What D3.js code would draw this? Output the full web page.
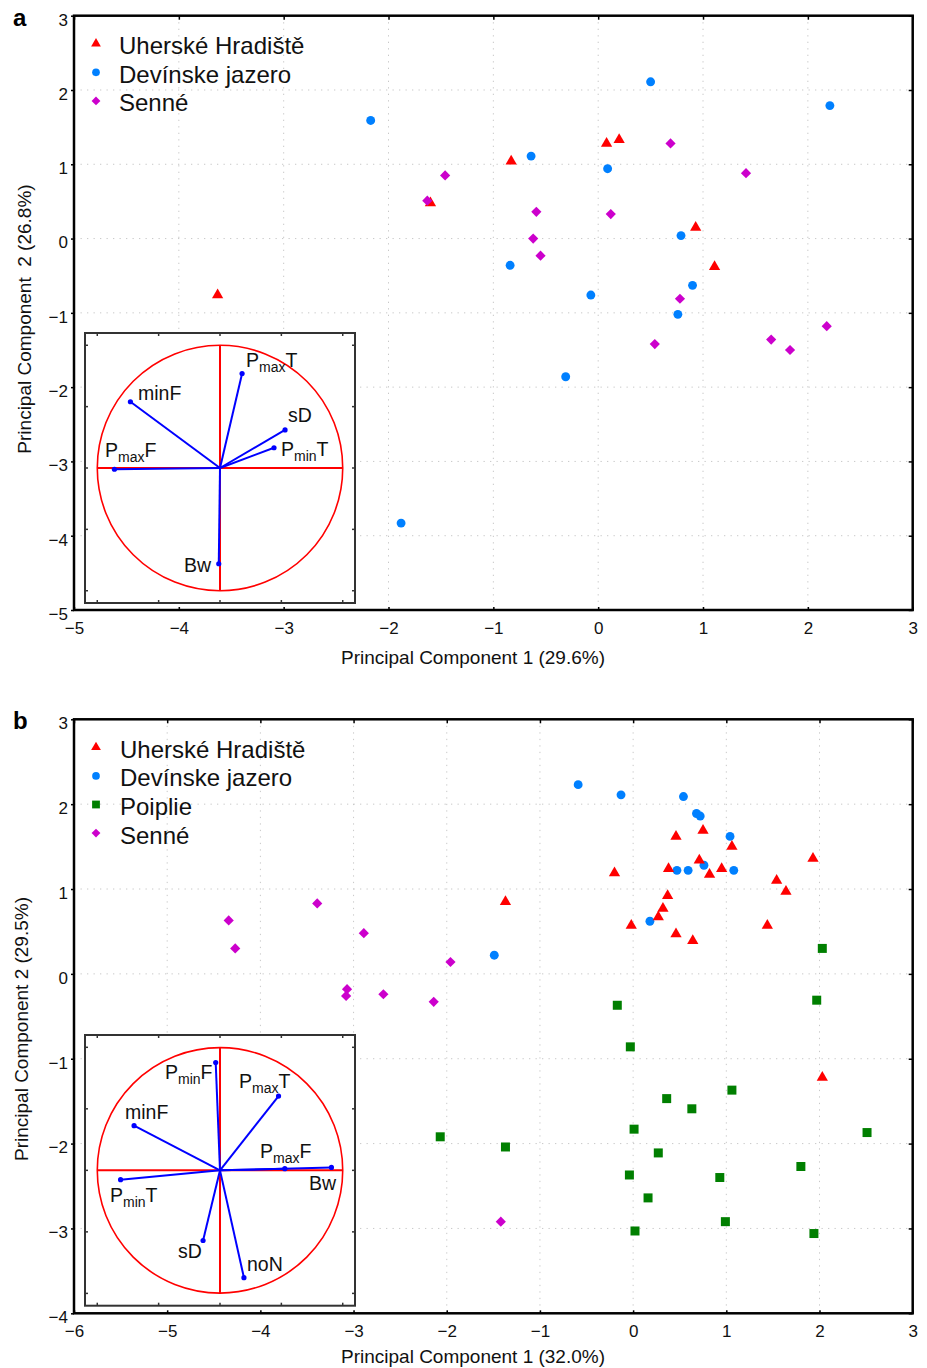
<!DOCTYPE html>
<html><head><meta charset="utf-8">
<script src="https://cdn.jsdelivr.net/npm/d3@7"></script>
<style>html,body{margin:0;padding:0;background:#fff;}svg{display:block;font-family:"Liberation Sans",Arial,sans-serif;}</style>
</head><body>
<svg id="c" width="927" height="1368"></svg>
<script>
// ---------- DATA ----------
const groupsA = ["Uherské Hradiště","Devínske jazero","Senné"];
const groupsB = ["Uherské Hradiště","Devínske jazero","Poiplie","Senné"];
const xTicksA = [-5,-4,-3,-2,-1,0,1,2,3];
const yTicksA = [-5,-4,-3,-2,-1,0,1,2,3];
const xTicksB = [-6,-5,-4,-3,-2,-1,0,1,2,3];
const yTicksB = [-4,-3,-2,-1,0,1,2,3];

const uhA = [[-3.63,-0.76],[-1.60,0.48],[-0.83,1.04],[0.08,1.28],[0.20,1.33],[0.93,0.15],[1.11,-0.38]];
const djA = [[-2.17,1.59],[-0.64,1.11],[0.50,2.11],[2.21,1.79],[0.09,0.94],[0.79,0.04],[-0.84,-0.36],[-0.07,-0.76],[0.90,-0.63],[0.76,-1.02],[-0.31,-1.86],[-1.88,-3.83]];
const seA = [[-1.63,0.51],[-1.46,0.85],[-0.59,0.36],[-0.62,0.00],[-0.55,-0.23],[0.12,0.33],[0.69,1.28],[1.41,0.88],[0.78,-0.81],[0.54,-1.42],[1.65,-1.36],[1.83,-1.50],[2.18,-1.18]];

const uhB = [[-1.37,0.85],[-0.20,1.19],[-0.02,0.57],[0.46,1.62],[0.75,1.69],[1.06,1.50],[0.38,1.24],[0.71,1.34],[0.82,1.17],[0.95,1.24],[0.37,0.92],[0.32,0.77],[0.27,0.67],[0.46,0.47],[0.64,0.39],[1.44,0.57],[1.54,1.10],[1.64,0.97],[1.93,1.36],[2.03,-1.22]];
const djB = [[-1.49,0.22],[-0.59,2.23],[-0.13,2.11],[0.54,2.09],[0.68,1.89],[0.72,1.86],[1.04,1.62],[0.47,1.22],[0.59,1.22],[0.76,1.28],[1.08,1.22],[0.18,0.62]];
const poB = [[2.03,0.30],[1.97,-0.31],[-0.17,-0.37],[-0.03,-0.86],[1.06,-1.37],[0.36,-1.47],[0.63,-1.59],[0.01,-1.83],[2.51,-1.87],[-1.37,-2.04],[-2.07,-1.92],[0.27,-2.11],[1.80,-2.27],[-0.04,-2.37],[0.93,-2.40],[0.16,-2.64],[0.99,-2.92],[0.02,-3.03],[1.94,-3.06]];
const seB = [[-4.34,0.63],[-4.27,0.30],[-3.39,0.83],[-2.89,0.48],[-3.07,-0.18],[-3.08,-0.26],[-2.68,-0.24],[-2.14,-0.33],[-1.96,0.14],[-1.42,-2.92]];

// loadings: [main, sub, suffix, x, y]
const loadA = [["P","max","T",0.18,0.77],["","","minF",-0.73,0.54],["","","sD",0.53,0.31],["P","min","T",0.44,0.165],["P","max","F",-0.86,-0.01],["","","Bw",-0.01,-0.78]];
const loadB = [["P","min","F",-0.035,0.876],["P","max","T",0.477,0.604],["","","minF",-0.70,0.363],["P","max","F",0.528,0.014],["","","Bw",0.908,0.024],["P","min","T",-0.81,-0.076],["","","sD",-0.138,-0.57],["","","noN",0.195,-0.872]];
const inset = [-1.1,1.1];
const insetTicks = [-1,-0.5,0,0.5,1];

// ---------- STYLE ----------
const colors = {"Uherské Hradiště":"#ff0000","Devínske jazero":"#0080ff","Poiplie":"#007f00","Senné":"#cc00cc"};
const shapes = {"Uherské Hradiště":"tri","Devínske jazero":"circ","Poiplie":"sq","Senné":"dia"};

const svg = d3.select("#c");

function marker(g, type, x, y, color, scale){
  const s = scale||1;
  if(type==="tri") g.append("path").attr("d", d3.symbol(d3.symbolTriangle, 55*s)()).attr("transform",`translate(${x},${y})`).attr("fill",color);
  else if(type==="circ") g.append("path").attr("d", d3.symbol(d3.symbolCircle, 62*s)()).attr("transform",`translate(${x},${y})`).attr("fill",color);
  else if(type==="sq") g.append("path").attr("d", d3.symbol(d3.symbolSquare, 81*s)()).attr("transform",`translate(${x},${y})`).attr("fill",color);
  else g.append("path").attr("d", d3.symbol(d3.symbolSquare, 52*s)()).attr("transform",`translate(${x},${y}) rotate(45)`).attr("fill",color);
}

function panel(cfg){
  const g = svg.append("g");
  const x = d3.scaleLinear().domain(cfg.xd).range(cfg.xr);
  const y = d3.scaleLinear().domain(cfg.yd).range(cfg.yr);
  // grid
  const grid = g.append("g").attr("stroke","#c8c8c8").attr("stroke-width",1).attr("stroke-dasharray","1.3,5.2");
  cfg.xt.slice(1,-1).forEach(t=>grid.append("line").attr("x1",x(t)).attr("x2",x(t)).attr("y1",cfg.yr[1]).attr("y2",cfg.yr[0]));
  cfg.yt.slice(1,-1).forEach(t=>grid.append("line").attr("y1",y(t)).attr("y2",y(t)).attr("x1",cfg.xr[0]).attr("x2",cfg.xr[1]));
  // axes with ticks
  const ax = g.append("g").attr("class","axes");
  const bottom = ax.append("g").attr("transform",`translate(0,${cfg.yr[0]})`).call(d3.axisBottom(x).tickValues(cfg.xt).tickSize(-3).tickFormat(d=>d<0?"\u2212"+Math.abs(d):d).tickPadding(24));
  const top = ax.append("g").attr("transform",`translate(0,${cfg.yr[1]})`).call(d3.axisTop(x).tickValues(cfg.xt).tickSize(-4).tickFormat(""));
  const left = ax.append("g").attr("transform",`translate(${cfg.xr[0]},0)`).call(d3.axisLeft(y).tickValues(cfg.yt).tickSize(3).tickFormat(d=>d<0?"\u2212"+Math.abs(d):d).tickPadding(3));
  const right = ax.append("g").attr("transform",`translate(${cfg.xr[1]},0)`).call(d3.axisRight(y).tickValues(cfg.yt).tickSize(-4).tickFormat(""));
  [bottom,top,left,right].forEach(a=>{a.select(".domain").remove(); a.selectAll(".tick line").attr("stroke","#000").attr("stroke-width",1.5);
    a.selectAll("text").attr("font-size",17).attr("fill","#111").attr("font-family","Liberation Sans, Arial, sans-serif");});
  left.selectAll("text").attr("dy","0.55em");
  bottom.selectAll("text").attr("dy","0");
  g.append("rect").attr("x",cfg.xr[0]).attr("y",cfg.yr[1]).attr("width",cfg.xr[1]-cfg.xr[0]).attr("height",cfg.yr[0]-cfg.yr[1])
    .attr("fill","none").attr("stroke","#000").attr("stroke-width",2.5);
  // titles
  g.append("text").attr("x",473).attr("y",cfg.xTitleY).attr("text-anchor","middle").attr("font-size",19).attr("fill","#111").text(cfg.xTitle);
  g.append("text").attr("transform",`translate(${cfg.yTitleX},${cfg.yTitleC}) rotate(-90)`).attr("text-anchor","middle").attr("font-size",19).attr("fill","#111").attr("xml:space","preserve").style("white-space","pre").text(cfg.yTitle);
  g.append("text").attr("x",13).attr("y",cfg.yr[1]+10).attr("font-size",24).attr("font-weight","bold").attr("fill","#000").text(cfg.label);
  // legend
  cfg.groups.forEach((gr,i)=>{
    const ly = cfg.legY + i*28.6;
    marker(g, shapes[gr], 96, ly, colors[gr], 0.75);
    g.append("text").attr("x",cfg.legX).attr("y",ly+10.5).attr("font-size",24).attr("fill","#111").text(gr);
  });
  // inset
  const ib = cfg.inset;
  const ix = d3.scaleLinear().domain(inset).range([ib.x0, ib.x1]);
  const iy = d3.scaleLinear().domain(inset).range([ib.y1, ib.y0]);
  const ig = g.append("g");
  ig.append("rect").attr("x",ib.x0).attr("y",ib.y0).attr("width",ib.x1-ib.x0).attr("height",ib.y1-ib.y0).attr("fill","#fff").attr("stroke","#333").attr("stroke-width",2);
  const itk = ig.append("g").attr("stroke","#333").attr("stroke-width",1.5);
  insetTicks.forEach(t=>{
    itk.append("line").attr("x1",ix(t)).attr("x2",ix(t)).attr("y1",ib.y0).attr("y2",ib.y0+3);
    itk.append("line").attr("x1",ix(t)).attr("x2",ix(t)).attr("y1",ib.y1).attr("y2",ib.y1-3);
    itk.append("line").attr("y1",iy(t)).attr("y2",iy(t)).attr("x1",ib.x0).attr("x2",ib.x0+3);
    itk.append("line").attr("y1",iy(t)).attr("y2",iy(t)).attr("x1",ib.x1).attr("x2",ib.x1-3);
  });
  const r = ix(1)-ix(0);
  ig.append("circle").attr("cx",ix(0)).attr("cy",iy(0)).attr("r",r).attr("fill","none").attr("stroke","#ff0000").attr("stroke-width",1.6);
  ig.append("line").attr("x1",ix(-1)).attr("x2",ix(1)).attr("y1",iy(0)).attr("y2",iy(0)).attr("stroke","#ff0000").attr("stroke-width",2);
  ig.append("line").attr("x1",ix(0)).attr("x2",ix(0)).attr("y1",iy(-1)).attr("y2",iy(1)).attr("stroke","#ff0000").attr("stroke-width",2);
  cfg.loads.forEach((d,i)=>{
    ig.append("line").attr("x1",ix(0)).attr("y1",iy(0)).attr("x2",ix(d[3])).attr("y2",iy(d[4])).attr("stroke","#0000ff").attr("stroke-width",2);
    ig.append("circle").attr("cx",ix(d[3])).attr("cy",iy(d[4])).attr("r",2.6).attr("fill","#0000ff");
    const lp = cfg.labelPos[i];
    const t = ig.append("text").attr("x",lp[0]).attr("y",lp[1]).attr("font-size",19.5).attr("fill","#111");
    if(d[0]){
      t.append("tspan").text(d[0]);
      t.append("tspan").attr("font-size",14).attr("dy",5).text(d[1]);
      t.append("tspan").attr("dy",-5).text(d[2]);
    } else t.text(d[2]);
  });
  return {g,x,y};
}

function drawPoints(p, data, gr){
  data.forEach(d=>marker(p.g, shapes[gr], p.x(d[0]), p.y(d[1]), colors[gr], 1));
}

const pA = panel({xd:[-5,3], xr:[74,912.7], yd:[-5,3], yr:[610,15.7], xt:xTicksA, yt:yTicksA,
  xTitle:"Principal Component 1 (29.6%)", xTitleY:664, yTitle:"Principal Component  2 (26.8%)", yTitleX:31, yTitleC:319,
  label:"a", groups:groupsA, legX:119, legY:43.7,
  inset:{x0:85,x1:355,y0:333,y1:603}, loads:loadA,
  labelPos:[[246,367],[138,400],[288,422],[281,456],[105,457],[184,572]]});
drawPoints(pA, uhA, "Uherské Hradiště");
drawPoints(pA, djA, "Devínske jazero");
drawPoints(pA, seA, "Senné");

const pB = panel({xd:[-6,3], xr:[74,912.7], yd:[-4,3], yr:[1313.3,719.3], xt:xTicksB, yt:yTicksB,
  xTitle:"Principal Component 1 (32.0%)", xTitleY:1363, yTitle:"Principal Component 2 (29.5%)", yTitleX:28, yTitleC:1029,
  label:"b", groups:groupsB, legX:120, legY:747.3,
  inset:{x0:85,x1:355,y0:1035,y1:1305.7}, loads:loadB,
  labelPos:[[165,1079],[239,1088],[125,1119],[260,1158],[309,1190],[110,1202],[178,1258],[247,1271]]});
drawPoints(pB, poB, "Poiplie");
drawPoints(pB, seB, "Senné");
drawPoints(pB, djB, "Devínske jazero");
drawPoints(pB, uhB, "Uherské Hradiště");
</script>
</body></html>
